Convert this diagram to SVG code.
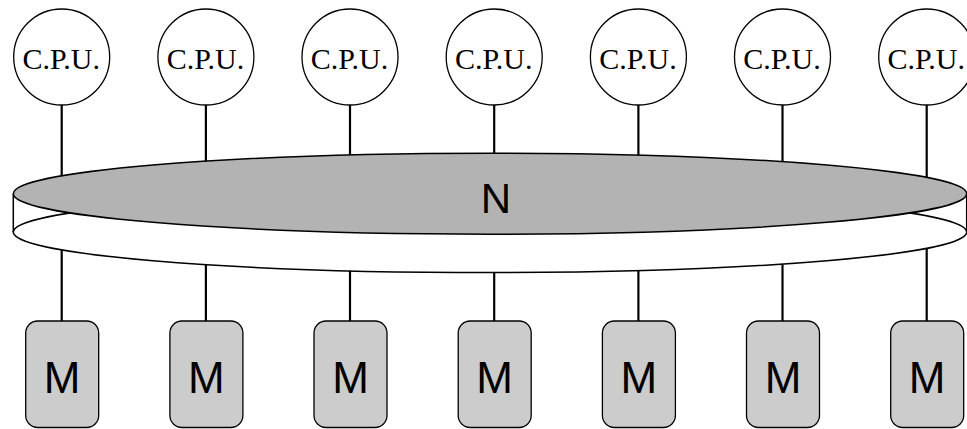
<svg xmlns="http://www.w3.org/2000/svg" width="967" height="429" viewBox="0 0 967 429">
  <style>
    .link { stroke: #000; stroke-width: 2.2; fill: none; }
    .cpu circle { fill: #fff; stroke: #000; stroke-width: 1.3; }
    .cpu text { font-family: "Liberation Serif", "Times New Roman", serif; font-size: 30px; text-anchor: middle; fill: #000; }
    .mem rect { fill: #cccccc; stroke: #000; stroke-width: 1.3; }
    .mem text { font-family: "Liberation Sans", Arial, sans-serif; font-size: 44px; text-anchor: middle; fill: #000; }
    .net-top { fill: #b3b3b3; stroke: #000; stroke-width: 1.5; }
    .net-base { fill: #fff; stroke: #000; stroke-width: 1.5; }
    .net-label { font-family: "Liberation Sans", Arial, sans-serif; font-size: 42px; text-anchor: middle; fill: #000; }
  </style>

  <!-- connectors: drawn first so the network disc covers their inner ends -->
  <g id="connectors">
    <line class="link" x1="61.7" y1="105" x2="61.7" y2="194"/>
    <line class="link" x1="205.9" y1="105" x2="205.9" y2="194"/>
    <line class="link" x1="350" y1="105" x2="350" y2="194"/>
    <line class="link" x1="494.2" y1="105" x2="494.2" y2="194"/>
    <line class="link" x1="638.4" y1="105" x2="638.4" y2="194"/>
    <line class="link" x1="782.5" y1="105" x2="782.5" y2="194"/>
    <line class="link" x1="926.7" y1="105" x2="926.7" y2="194"/>

    <line class="link" x1="61.7" y1="232" x2="61.7" y2="321"/>
    <line class="link" x1="205.9" y1="232" x2="205.9" y2="321"/>
    <line class="link" x1="350" y1="232" x2="350" y2="321"/>
    <line class="link" x1="494.2" y1="232" x2="494.2" y2="321"/>
    <line class="link" x1="638.4" y1="232" x2="638.4" y2="321"/>
    <line class="link" x1="782.5" y1="232" x2="782.5" y2="321"/>
    <line class="link" x1="926.7" y1="232" x2="926.7" y2="321"/>
  </g>

  <!-- interconnection network drawn as a flat cylinder -->
  <g id="network">
    <ellipse class="net-base" cx="490" cy="232.1" rx="476.7" ry="40.5"/>
    <rect x="13.3" y="193.7" width="953.4" height="38.4" fill="#fff" stroke="none"/>
    <line x1="13.3" y1="193.7" x2="13.3" y2="232.1" stroke="#000" stroke-width="1.5"/>
    <line x1="966.7" y1="193.7" x2="966.7" y2="232.1" stroke="#000" stroke-width="1.5"/>
    <path d="M13.3,232.1 A476.7,40.5 0 0 1 966.7,232.1" fill="none" stroke="#000" stroke-width="1.5"/>
    <ellipse class="net-top" cx="490" cy="193.7" rx="476.7" ry="40.5"/>
    <text class="net-label" x="496" y="212.7">N</text>
  </g>

  <!-- processors -->
  <g id="cpu1" class="cpu"><circle cx="61.7" cy="57" r="48"/><text x="61.2" y="69">C.P.U.</text></g>
  <g id="cpu2" class="cpu"><circle cx="205.9" cy="57" r="48"/><text x="205.4" y="69">C.P.U.</text></g>
  <g id="cpu3" class="cpu"><circle cx="350" cy="57" r="48"/><text x="349.5" y="69">C.P.U.</text></g>
  <g id="cpu4" class="cpu"><circle cx="494.2" cy="57" r="48"/><text x="493.7" y="69">C.P.U.</text></g>
  <g id="cpu5" class="cpu"><circle cx="638.4" cy="57" r="48"/><text x="637.9" y="69">C.P.U.</text></g>
  <g id="cpu6" class="cpu"><circle cx="782.5" cy="57" r="48"/><text x="782" y="69">C.P.U.</text></g>
  <g id="cpu7" class="cpu"><circle cx="926.7" cy="57" r="48"/><text x="926.2" y="69">C.P.U.</text></g>

  <!-- memory modules -->
  <g id="mem1" class="mem"><rect x="25.7" y="321" width="73" height="106.5" rx="12"/><text x="62.2" y="393.3">M</text></g>
  <g id="mem2" class="mem"><rect x="169.9" y="321" width="73" height="106.5" rx="12"/><text x="206.4" y="393.3">M</text></g>
  <g id="mem3" class="mem"><rect x="314" y="321" width="73" height="106.5" rx="12"/><text x="350.5" y="393.3">M</text></g>
  <g id="mem4" class="mem"><rect x="458.2" y="321" width="73" height="106.5" rx="12"/><text x="494.7" y="393.3">M</text></g>
  <g id="mem5" class="mem"><rect x="602.4" y="321" width="73" height="106.5" rx="12"/><text x="638.9" y="393.3">M</text></g>
  <g id="mem6" class="mem"><rect x="746.5" y="321" width="73" height="106.5" rx="12"/><text x="783" y="393.3">M</text></g>
  <g id="mem7" class="mem"><rect x="890.7" y="321" width="73" height="106.5" rx="12"/><text x="927.2" y="393.3">M</text></g>
</svg>
